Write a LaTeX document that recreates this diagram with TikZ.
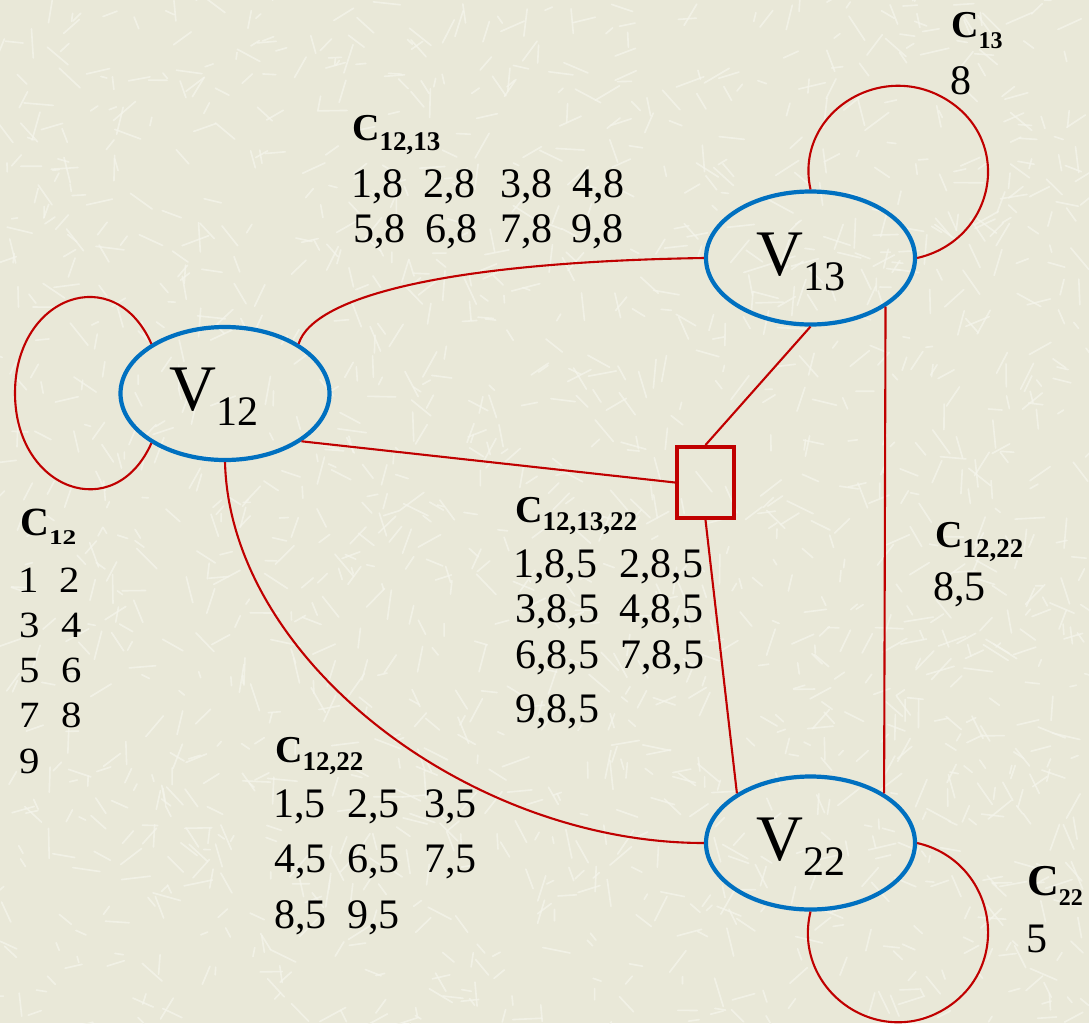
\documentclass[tikz,border=0pt]{standalone}
\usepackage{fontspec}
\setmainfont{Liberation Serif}
\usetikzlibrary{shapes.geometric}
\definecolor{bgpaper}{RGB}{233,232,216}
\definecolor{bgfiber}{RGB}{245,245,236}
\definecolor{edgered}{RGB}{192,0,0}
\definecolor{nodeblue}{RGB}{0,112,192}
\newcommand\mkClab[5]{{\bfseries\fontsize{#1}{#1}\selectfont C}\raisebox{-#3pt}{\fontsize{#2}{#2}\selectfont #5#4}}
\newcommand\mkVlab[1]{{\fontsize{65}{65}\selectfont V}\raisebox{-15pt}{\fontsize{42}{42}\selectfont #1}}
\newcommand\wdig[1]{\scalebox{1.1}[1]{#1}}
\begin{document}
\begin{tikzpicture}[x=1pt,y=-1pt,
  vert/.style={ellipse, draw=nodeblue, line width=4.2pt, minimum width=209pt, minimum height=133pt, inner sep=0pt},
  hub/.style={rectangle, draw=edgered, line width=4pt, minimum width=57pt, minimum height=71pt, inner sep=0pt},
  link/.style={draw=edgered, line width=2.1pt},
  fiber/.style={draw=bgfiber, line width=1.6pt, line cap=round, opacity=0.75},
  lab/.style={anchor=base west, inner sep=0pt, font=\fontsize{42}{42}\selectfont},
  smalllab/.style={anchor=base west, inner sep=0pt, font=\fontsize{37}{37}\selectfont}]
\fill[bgpaper] (0,0) rectangle (1089,1023);
\useasboundingbox (0,0) rectangle (1089,1023);
% paper texture
\pgfmathsetseed{4711}
\begin{scope}
\clip (0,0) rectangle (1089,1023);
\foreach \i in {1,...,1600} {
  \pgfmathsetmacro\xa{rnd*1089}
  \pgfmathsetmacro\ya{rnd*1023}
  \pgfmathsetmacro\an{rnd*360}
  \pgfmathsetmacro\ln{6+rnd*24}
  \draw[fiber] (\xa,\ya) -- ++(\an:\ln);
}
\end{scope}

% vertices
\node[vert] (v12) at (225,393.5) {};
\node[vert] (v13) at (810.5,258) {};
\node[vert] (v22) at (810.5,843) {};
\node[hub] (sq) at (705.5,482.5) {};

\node[anchor=base west, inner sep=0pt] (v12t) at (169,410) {\mkVlab{12}};
\node[anchor=base west, inner sep=0pt] (v13t) at (756,275) {\mkVlab{13}};
\node[anchor=base west, inner sep=0pt] (v22t) at (756,860) {\mkVlab{22}};

% loop helper coordinates
\coordinate (c12l) at (15,393);
\coordinate (c13m) at (947.3,100.1);
\coordinate (c22m) at (945.9,1008.2);

% edges
\draw[link] (v12.34) .. controls +(15,-48) and +(-254,4) .. (v13.west);
\draw[link] (v12.south) .. controls (230,660) and (470,843) .. (v22.west);
\draw[link] (v12.-32) -- (sq.west);
\draw[link] (sq.north) -- (v13.south);
\draw[link] (sq.south) -- (v22.146);
\draw[link] (v13.-33) -- (v22.34);

% loops
\draw[link] (v12.146) .. controls (114.5,260.2) and (15,295.7) .. (c12l)
                      .. controls (15,490.3) and (114.5,525.8) .. (v12.214);
\draw[link] (v13.north) .. controls (793.9,114.2) and (880.4,58.2) .. (c13m)
                        .. controls (1014.2,142) and (994.9,240.2) .. (v13.east);
\draw[link] (v22.east) .. controls (995.9,861) and (1014.2,965.3) .. (c22m)
                       .. controls (877.6,1051.1) and (791.7,989.4) .. (v22.south);

% labels: C12
\node[anchor=base west, inner sep=0pt] (c12h) at (20,535) {\mkClab{40}{21}{9}{\scalebox{1.3}[1]{12}}{\bfseries}};
\node[smalllab] (c12r1) at (18,592) {\makebox[41pt][l]{\wdig{1}}\wdig{2}};
\node[smalllab] (c12r2) at (19,637) {\makebox[42pt][l]{\wdig{3}}\wdig{4}};
\node[smalllab] (c12r3) at (19,682) {\makebox[42pt][l]{\wdig{5}}\wdig{6}};
\node[smalllab] (c12r4) at (19,727) {\makebox[42pt][l]{\wdig{7}}\wdig{8}};
\node[smalllab] (c12r5) at (19,773) {\wdig{9}};

% C12,13
\node[anchor=base west, inner sep=0pt] (c1213h) at (352,140) {\mkClab{38}{27}{10}{12,13}{\bfseries}};
\node[lab] (c1213r1) at (351,197) {\makebox[72pt][l]{1,8}\makebox[77pt][l]{2,8}\makebox[72pt][l]{3,8}4,8};
\node[lab] (c1213r2) at (353,242) {\makebox[72pt][l]{5,8}\makebox[75pt][l]{6,8}\makebox[71pt][l]{7,8}9,8};

% C13
\node[anchor=base west, inner sep=0pt] (c13h) at (951,37) {\mkClab{38}{24}{11}{13}{\bfseries}};
\node[lab] (c13r1) at (950,94) {8};

% C12,13,22
\node[anchor=base west, inner sep=0pt] (c121322h) at (515,522) {\mkClab{38}{27}{8}{12,13,22}{\bfseries}};
\node[lab] (c121322r1) at (513,577) {\makebox[106pt][l]{1,8,5}2,8,5};
\node[lab] (c121322r2) at (515,622) {\makebox[104pt][l]{3,8,5}4,8,5};
\node[lab] (c121322r3) at (515,668) {\makebox[105pt][l]{6,8,5}7,8,5};
\node[lab] (c121322r4) at (515,722) {9,8,5};

% C12,22 (right)
\node[anchor=base west, inner sep=0pt] (c1222bh) at (935,547) {\mkClab{38}{27}{10}{12,22}{\bfseries}};
\node[lab] (c1222br1) at (933,600) {8,5};

% C12,22 (bottom)
\node[anchor=base west, inner sep=0pt] (c1222h) at (275,762) {\mkClab{38}{27}{8}{12,22}{\bfseries}};
\node[lab] (c1222r1) at (273,817) {\makebox[74pt][l]{1,5}\makebox[77pt][l]{2,5}3,5};
\node[lab] (c1222r2) at (274,872) {\makebox[73pt][l]{4,5}\makebox[77pt][l]{6,5}7,5};
\node[lab] (c1222r3) at (274,928) {\makebox[73pt][l]{8,5}9,5};

% C22
\node[anchor=base west, inner sep=0pt] (c22h) at (1027,895) {\mkClab{44}{24}{10}{22}{\bfseries}};
\node[lab] (c22r1) at (1026,952) {5};
\end{tikzpicture}
\end{document}
